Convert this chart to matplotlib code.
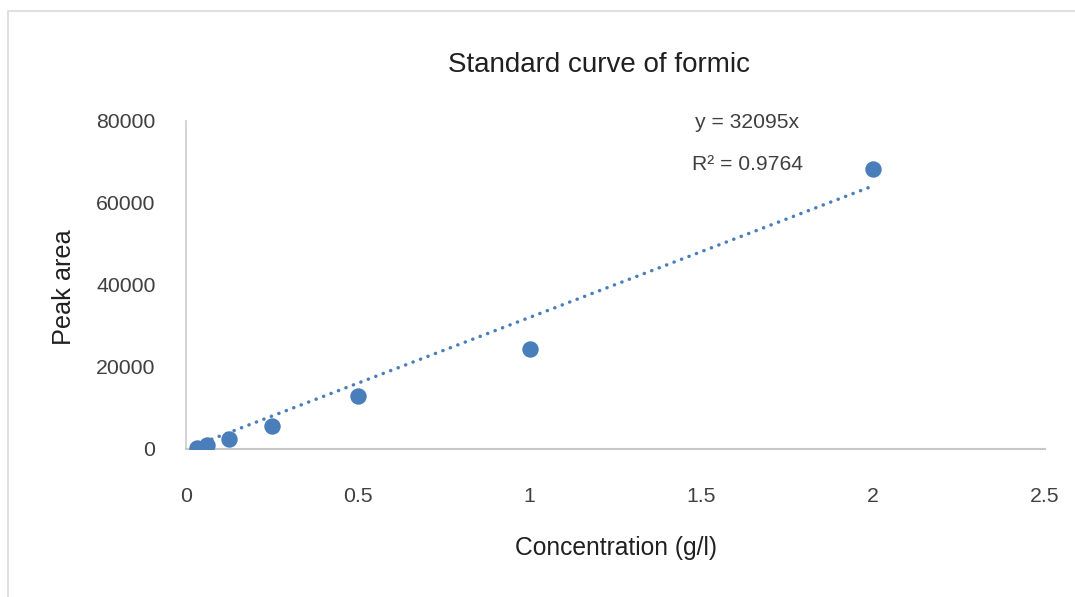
import matplotlib
matplotlib.use("Agg")
import matplotlib.pyplot as plt
from matplotlib.patches import Rectangle
import numpy as np

plt.rcParams['font.family'] = ['Liberation Sans', 'DejaVu Sans']

concentration = [0.03125, 0.0625, 0.125, 0.25, 0.5, 1.0, 2.0]
peak_area = [250, 1000, 2450, 5650, 12900, 24400, 68200]
slope = 32095
r_squared = 0.9764
title = "Standard curve of formic"
x_label = "Concentration (g/l)"
y_label = "Peak area"
x_ticks = [0, 0.5, 1, 1.5, 2, 2.5]
x_tick_labels = ["0", "0.5", "1", "1.5", "2", "2.5"]
y_ticks = [0, 20000, 40000, 60000, 80000]
y_tick_labels = ["0", "20000", "40000", "60000", "80000"]

W, H = 1075, 597
fig = plt.figure(figsize=(W / 100, H / 100), dpi=100)
fig.patch.set_facecolor("white")

# outer chart frame
fig.add_artist(Rectangle((8 / W, -0.01), 1.2, 1 - 11 / H + 0.01,
                         transform=fig.transFigure, fill=False,
                         edgecolor="#d9d9d9", linewidth=1.2))

ax = fig.add_axes([186 / W, 1 - 449 / H, (1045 - 186) / W, (449 - 121) / H])
color = "#4a7ebb"

xs = np.array([min(concentration), max(concentration)])
ax.plot(xs, slope * xs, linestyle=(0, (0.05, 2.25)), color=color, linewidth=2.5,
        dash_capstyle="round", zorder=2)
ax.scatter(concentration, peak_area, s=140, color=color, zorder=3, linewidths=0)

ax.set_xlim(0, 2.5)
ax.set_ylim(0, 80000)
ax.set_xticks(x_ticks)
ax.set_xticklabels(x_tick_labels)
ax.set_yticks(y_ticks)
ax.set_yticklabels(y_tick_labels)
ax.tick_params(length=0, labelsize=15.3, colors="#404040", labelcolor="#404040")
ax.tick_params(axis="x", pad=27.5)
ax.tick_params(axis="y", pad=22)

for side in ["top", "right"]:
    ax.spines[side].set_visible(False)
ax.spines["left"].set_color("#d0d0d0")
ax.spines["bottom"].set_color("#c8c8c8")
ax.spines["left"].set_linewidth(1.3)
ax.spines["bottom"].set_linewidth(1.5)

fig.text(599 / W, 1 - 65 / H, title, ha="center", va="center", fontsize=20, color="#202020")
fig.text(616 / W, 1 - 548 / H, x_label, ha="center", va="center", fontsize=17.7, color="#202020")
fig.text(64 / W, 1 - 287 / H, y_label, ha="center", va="center", rotation=90, fontsize=18.2, color="#202020")

fig.text(747 / W, 1 - 122 / H, f"y = {slope}x", ha="center", va="center", fontsize=15.2, color="#404040")
fig.text(747 / W, 1 - 165 / H, f"R² = {r_squared}", ha="center", va="center", fontsize=15.2, color="#404040")

fig.savefig("out.png", dpi=100, facecolor="white")
